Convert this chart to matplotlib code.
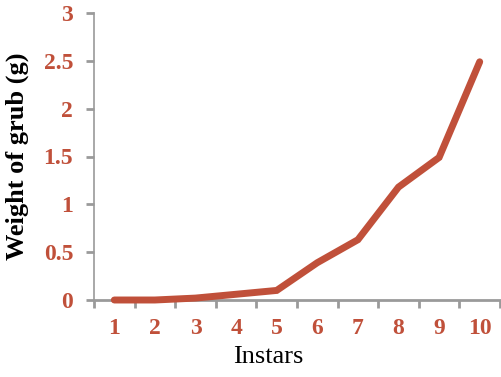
import matplotlib
matplotlib.use("Agg")
import matplotlib.pyplot as plt
from matplotlib.ticker import FixedLocator, NullFormatter

instars = [1, 2, 3, 4, 5, 6, 7, 8, 9, 10]
weight_g = [0.0, 0.0, 0.02, 0.06, 0.10, 0.39, 0.63, 1.18, 1.49, 2.49]
y_ticks = [0, 0.5, 1, 1.5, 2, 2.5, 3]
y_tick_labels = ["0", "0.5", "1", "1.5", "2", "2.5", "3"]

red = "#c0503a"
gray = "#9a9a9a"
serif = ["Liberation Serif", "DejaVu Serif"]

fig = plt.figure(figsize=(5.01, 3.77), dpi=100)
ax = fig.add_axes([94 / 501, 1 - 300 / 377, 406 / 501, 287 / 377])

ax.plot(instars, weight_g, color=red, lw=5, solid_capstyle="round",
        solid_joinstyle="miter", zorder=3, clip_on=False)

ax.set_xlim(0.5, 10.5)
ax.set_ylim(0, 3)

for s in ["top", "right"]:
    ax.spines[s].set_visible(False)
ax.spines["left"].set_color(gray)
ax.spines["left"].set_linewidth(1.2)
ax.spines["bottom"].set_color(gray)
ax.spines["bottom"].set_linewidth(2.0)

ax.set_yticks(y_ticks)
ax.set_yticklabels(y_tick_labels)
ax.tick_params(axis="y", direction="out", length=6, width=2.0, color=gray,
               pad=9, labelcolor=red)

ax.set_xticks(instars)
ax.set_xticklabels([str(i) for i in instars])
ax.tick_params(axis="x", which="major", length=0, pad=13, labelcolor=red)
ax.xaxis.set_minor_locator(FixedLocator([i + 0.5 for i in range(0, 11)]))
ax.xaxis.set_minor_formatter(NullFormatter())
ax.tick_params(axis="x", which="minor", direction="out", length=6, width=2.0,
               color=gray)

for lab in ax.get_xticklabels() + ax.get_yticklabels():
    lab.set_fontfamily(serif)
    lab.set_fontweight("bold")
    lab.set_fontsize(17)

ax.set_xlabel("Instars", fontfamily=serif, fontsize=19, labelpad=5)
ax.xaxis.set_label_coords((268 - 94) / 406, -0.16)
ax.set_ylabel("Weight of grub (g)", fontfamily=serif, fontsize=19,
              fontweight="bold", labelpad=10)
ax.yaxis.set_label_coords(-0.16, 0.5)

fig.savefig("out.png", dpi=100)
